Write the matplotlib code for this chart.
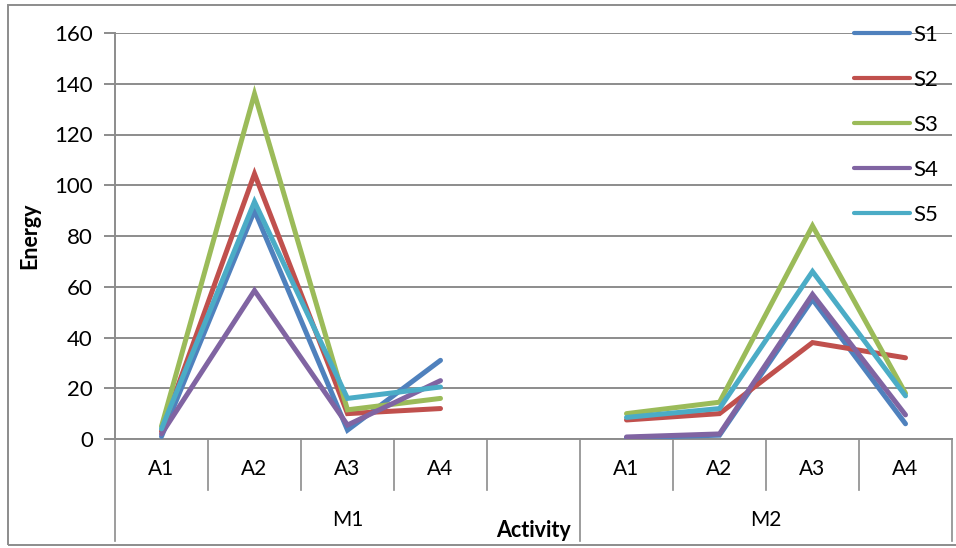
import matplotlib
matplotlib.use("Agg")
import matplotlib.pyplot as plt
from matplotlib.patches import Rectangle

plt.rcParams['font.family'] = ['Lato', 'DejaVu Sans']

# categories on the x axis (blank slot separates the two groups)
activities = ['A1', 'A2', 'A3', 'A4', '', 'A1', 'A2', 'A3', 'A4']
groups = ['M1', 'M2']

# energy per series, None where there is no value
s1 = [1, 90, 3.5, 31, None, 0.5, 1.5, 55, 6]
s2 = [3, 104.5, 10, 12, None, 7.5, 10, 38, 32]
s3 = [5, 136, 11.5, 16, None, 10, 14.5, 84, 18]
s4 = [2, 58.5, 5.5, 23, None, 0.8, 2, 57, 9.5]
s5 = [4, 93.5, 16, 20.5, None, 8.5, 12, 66, 17]

series = {'S1': s1, 'S2': s2, 'S3': s3, 'S4': s4, 'S5': s5}
colors = ['#4F81BD', '#C0504D', '#9BBB59', '#8064A2', '#4BACC6']

fig = plt.figure(figsize=(9.56, 5.48), dpi=100)
ax = fig.add_axes([115/956, 1 - 439/548, 837/956, 406/548])

x = list(range(len(activities)))
for (name, vals), c in zip(series.items(), colors):
    ys = [float('nan') if v is None else v for v in vals]
    ax.plot(x, ys, color=c, lw=3.6, solid_capstyle='round',
            solid_joinstyle='miter', label=name, zorder=3)

grid_c = '#8C8C8C'
ax.set_xlim(-0.5, len(activities) - 0.5)
ax.set_ylim(0, 160)
ax.set_yticks(range(0, 161, 20))
ax.yaxis.grid(True, color=grid_c, lw=1.4)
ax.set_axisbelow(True)
ax.tick_params(axis='y', length=8, color=grid_c, width=1.4, labelsize=16, pad=8)
ax.set_xticks([])
for s in ['top', 'right']:
    ax.spines[s].set_visible(False)
for s in ['left', 'bottom']:
    ax.spines[s].set_color(grid_c)
    ax.spines[s].set_linewidth(1.4)

ax.set_ylabel('Energy', fontsize=15.5, fontweight='bold', labelpad=10)

# multi-level category axis below the plot
tr = ax.get_xaxis_transform()
for i in range(len(activities) + 1):
    b = i - 0.5
    low = -0.25 if b in (-0.5, 4.5, len(activities) - 0.5) else -0.125
    ax.plot([b, b], [0, low], transform=tr, color=grid_c, lw=1.2, clip_on=False)
for i, lab in enumerate(activities):
    ax.text(i, -0.075, lab, transform=tr, ha='center', va='center', fontsize=15)
ax.text(2, -0.2, groups[0], transform=tr, ha='center', va='center', fontsize=15)
ax.text(6.5, -0.2, groups[1], transform=tr, ha='center', va='center', fontsize=15)
ax.text(4, -0.225, 'Activity', transform=tr, ha='center', va='center',
        fontsize=15.5, fontweight='bold')

leg = ax.legend(loc='upper left', bbox_to_anchor=(834/956, 1 - 5/548),
                bbox_transform=fig.transFigure, frameon=False, fontsize=16,
                handlelength=2.5, handletextpad=0.15, labelspacing=1.12)
for h in leg.get_lines():
    h.set_linewidth(3)

fig.patches.append(Rectangle((8/956, 3/548), 960/956, 540/548, transform=fig.transFigure,
                             fill=False, edgecolor='#8C8C8C', lw=1.4))

fig.savefig('out.png', dpi=100)
